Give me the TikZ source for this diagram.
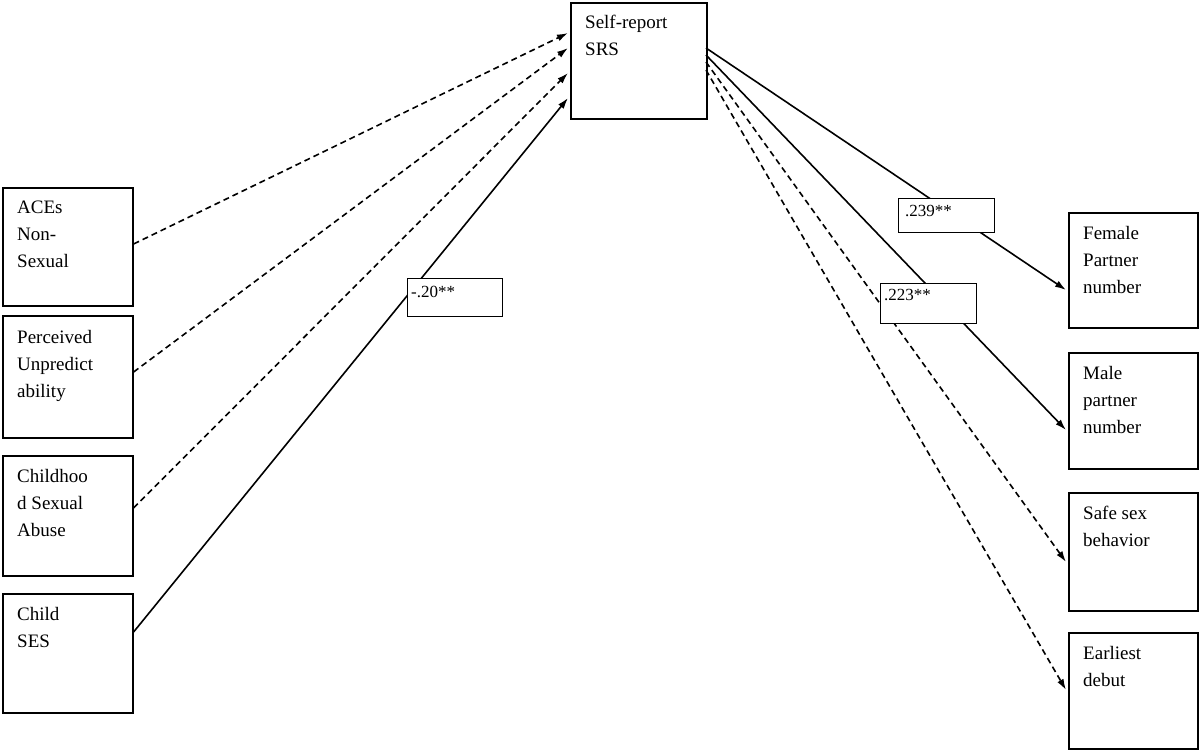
\documentclass[tikz,border=0pt]{standalone}
\usepackage{fontspec}
\setmainfont{Liberation Serif}
\usetikzlibrary{arrows.meta}
\begin{document}
\begin{tikzpicture}[x=1pt,y=-1pt,
 box/.style={draw,line width=1.6pt,anchor=north west,inner sep=0pt},
 txt/.style={anchor=north west,align=left,font=\fontsize{19}{27}\selectfont,inner sep=0pt},
 lab/.style={draw,line width=0.8pt,anchor=north west,inner sep=0pt,font=\fontsize{17}{20}\selectfont},
 ar/.style={line width=1.6pt,-{Latex[length=11pt,width=7pt]}},
 da/.style={ar,dash pattern=on 6pt off 4pt}]
\useasboundingbox (0,0) rectangle (1200,750);
\node[box,minimum width=130,minimum height=118] (a) at (2,187) {};
\node[box,minimum width=130,minimum height=122] (p) at (2,315) {};
\node[box,minimum width=130,minimum height=120] (c) at (2,455) {};
\node[box,minimum width=130,minimum height=119] (s) at (2,593) {};
\node[box,minimum width=136,minimum height=116] (r) at (570,2) {};
\node[box,minimum width=129,minimum height=115] (f) at (1068,212) {};
\node[box,minimum width=129,minimum height=116] (m) at (1068,352) {};
\node[box,minimum width=129,minimum height=118] (sf) at (1068,492) {};
\node[box,minimum width=129,minimum height=116] (e) at (1068,632) {};
\node[txt] (ta) at (17,201) {ACEs\\Non-\\Sexual};
\node[txt] (tp) at (17,330) {Perceived\\Unpredict\\ability};
\node[txt] (tc) at (17,469) {Childhoo\\d Sexual\\Abuse};
\node[txt] (ts) at (17,607) {Child\\SES};
\node[txt] (tr) at (585,15) {Self-report\\SRS};
\node[txt] (tf) at (1083,226) {Female\\Partner\\number};
\node[txt] (tm) at (1083,366) {Male\\partner\\number};
\node[txt] (tsf) at (1083,506) {Safe sex\\behavior};
\node[txt] (te) at (1083,646) {Earliest\\debut};
\coordinate (r1) at (568,33); \coordinate (r2) at (568,48);
\coordinate (r3) at (568,73); \coordinate (r4) at (568,98);
\coordinate (o1) at (706,48); \coordinate (o2) at (706,55);
\coordinate (o3) at (706,62); \coordinate (o4) at (706,70);
\draw[da] (a.east |- 0,244) -- (r1);
\draw[da] (p.east |- 0,372) -- (r2);
\draw[da] (c.east |- 0,508) -- (r3);
\draw[ar] (s.east |- 0,632) -- (r4);
\draw[ar] (o1) -- (1066,290);
\draw[ar] (o2) -- (1066,430);
\draw[da] (o3) -- (1066,562);
\draw[da] (o4) -- (1066,690);
\node[lab,minimum width=95,minimum height=38,fill=white] (l1) at (407,278) {};
\node[anchor=north west,inner sep=0pt,font=\fontsize{17}{20}\selectfont] (l1t) at (411,286) {-.20**};
\node[lab,minimum width=96,minimum height=34,fill=white] (l2) at (898,198) {};
\node[anchor=north west,inner sep=0pt,font=\fontsize{17}{20}\selectfont] (l2t) at (905,205) {.239**};
\node[lab,minimum width=96,minimum height=40,fill=white] (l3) at (880,283) {};
\node[anchor=north west,inner sep=0pt,font=\fontsize{17}{20}\selectfont] (l3t) at (884,289) {.223**};
\end{tikzpicture}
\end{document}
